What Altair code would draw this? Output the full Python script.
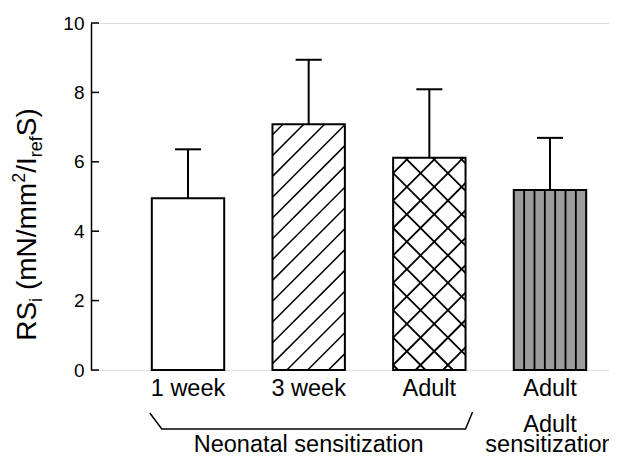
import altair as alt
import pandas as pd

# ---------------- data ----------------
categories = ["1 week", "3 week", "Adult", "Adult"]
groups = ["Neonatal sensitization", "Neonatal sensitization",
          "Neonatal sensitization", "Adult sensitization"]
means = [4.95, 7.08, 6.12, 5.19]
sems = [1.41, 1.86, 1.97, 1.50]
y_ticks = [0, 2, 4, 6, 8, 10]

# ---------------- style / layout ----------------
patterns = ["plain", "diagonal", "cross", "vertical"]
fills = ["#ffffff", "#ffffff", "#ffffff", "#9c9c9c"]
W, H = 518, 347
X_DOMAIN = [-0.804, 3.489]
Y_DOMAIN = [0, 10]
BAR_HALF = 0.3
CAP_HALF = 0.108
FONT = "Liberation Sans, Arial, Helvetica, sans-serif"
PX_X = W / (X_DOMAIN[1] - X_DOMAIN[0])
PX_Y = H / (Y_DOMAIN[1] - Y_DOMAIN[0])

positions = list(range(len(categories)))
df = pd.DataFrame({
    "pos": positions,
    "lo": [p - BAR_HALF for p in positions],
    "hi": [p + BAR_HALF for p in positions],
    "cap_lo": [p - CAP_HALF for p in positions],
    "cap_hi": [p + CAP_HALF for p in positions],
    "mean": means,
    "top": [m + s for m, s in zip(means, sems)],
    "zero": [0] * len(means),
    "label": categories,
    "fill": fills,
})

xs = alt.Scale(domain=X_DOMAIN, nice=False, zero=False)
ys = alt.Scale(domain=Y_DOMAIN, nice=False, zero=False)
yaxis = alt.Axis(values=y_ticks, ticks=False, tickSize=0, grid=False,
                 labelFontSize=19, labelFont=FONT, labelColor="black",
                 labelPadding=7, domainColor="black", domainWidth=1.5,
                 labelFlush=False, title=None)


def Y(field):
    return alt.Y(field, scale=ys, axis=yaxis, title=None)


def X(field):
    return alt.X(field, scale=xs, axis=None, title=None)


# ---------------- hatch decoration (clipped to each bar) ----------------
def hatch_segments():
    rows = []
    bw = 2 * BAR_HALF * PX_X
    for p, m, pat in zip(positions, means, patterns):
        h = m * PX_Y
        x0 = p - BAR_HALF

        def add(u1, v1, u2, v2, w):
            rows.append({"x": x0 + u1 / PX_X, "x2": x0 + u2 / PX_X,
                         "y": v1 / PX_Y, "y2": v2 / PX_Y, "w": w})

        if pat == "diagonal":
            spacing, phase = 20.8, -14.4
            k = -20
            while True:
                c = phase + spacing * k
                k += 1
                if c > h:
                    break
                ua, ub = max(0.0, -c), min(bw, h - c)
                if ub > ua:
                    add(ua, ua + c, ub, ub + c, 1.5)
        elif pat == "cross":
            spacing, phase = 27.4, 5.0
            k = -20
            while True:
                c = phase + spacing * k
                k += 1
                if c > h + bw + spacing:
                    break
                ua, ub = max(0.0, -c), min(bw, h - c)
                if ub > ua:
                    add(ua, ua + c, ub, ub + c, 1.8)
                ua, ub = max(0.0, c - h), min(bw, c)
                if ub > ua:
                    add(ua, c - ua, ub, c - ub, 1.8)
        elif pat == "vertical":
            for j in range(1, 7):
                u = bw * j / 7
                add(u, 0, u, h, 1.8)
    return pd.DataFrame(rows)


hatch_df = hatch_segments()

base = alt.Chart(df)

bars_fill = base.mark_rect(strokeWidth=0).encode(
    x=X("lo:Q"), x2="hi:Q",
    y=Y("mean:Q"), y2="zero:Q",
    color=alt.Color("fill:N", scale=None),
)

hatch = alt.Chart(hatch_df).mark_rule(color="black").encode(
    x=X("x:Q"), x2="x2:Q",
    y=Y("y:Q"), y2="y2:Q",
    strokeWidth=alt.StrokeWidth("w:Q", scale=None),
)

bars_outline = base.mark_rect(fillOpacity=0, stroke="black", strokeWidth=2).encode(
    x=X("lo:Q"), x2="hi:Q",
    y=Y("mean:Q"), y2="zero:Q",
)

err = base.mark_rule(color="black", strokeWidth=2).encode(
    x=X("pos:Q"),
    y=Y("mean:Q"), y2="top:Q",
)

caps = base.mark_rule(color="black", strokeWidth=2).encode(
    x=X("cap_lo:Q"), x2="cap_hi:Q",
    y=Y("top:Q"),
)

ticks = alt.Chart(pd.DataFrame({"t": y_ticks})).mark_rule(
    color="black", strokeWidth=1.5).encode(
    y=Y("t:Q"),
    x=alt.value(0),
    x2=alt.value(8),
)

LABEL_SIZE = 23.5
cat_labels = base.mark_text(fontSize=LABEL_SIZE, font=FONT, color="black",
                            align="center", baseline="alphabetic").encode(
    x=X("pos:Q"),
    y=alt.value(373),
    text="label:N",
)

# group labels, centred under their bars
group_names = []
for g in groups:
    if g not in group_names:
        group_names.append(g)
g_center = {g: sum(p for p, gg in zip(positions, groups) if gg == g) /
            sum(1 for gg in groups if gg == g) for g in group_names}

neo_df = pd.DataFrame({"x": [g_center[group_names[0]]], "t": [group_names[0]]})
adult_words = group_names[1].split(" ")
adult1_df = pd.DataFrame({"x": [g_center[group_names[1]]], "t": [adult_words[0]]})
adult2_df = pd.DataFrame({"x": [g_center[group_names[1]]], "t": [adult_words[1]]})


def glabel(d, ypx):
    return alt.Chart(d).mark_text(fontSize=LABEL_SIZE, font=FONT, color="black",
                                  align="center", baseline="alphabetic").encode(
        x=X("x:Q"), y=alt.value(ypx), text="t:N")


neo_text = glabel(neo_df, 429)
adult_text1 = glabel(adult1_df, 409)
adult_text2 = glabel(adult2_df, 429)

# bracket under the neonatal group (annotation)
neo_pos = [p for p, g in zip(positions, groups) if g == group_names[0]]
bl = min(neo_pos) - BAR_HALF
br = max(neo_pos) + BAR_HALF


def to_y(px):
    return (H - px) / PX_Y


bracket_df = pd.DataFrame({
    "x": [bl - 2 / PX_X, bl + 10 / PX_X, br, br + 7 / PX_X],
    "y": [to_y(390), to_y(406), to_y(406), to_y(389)],
    "o": [0, 1, 2, 3],
})
bracket = alt.Chart(bracket_df).mark_line(color="black", strokeWidth=1.5).encode(
    x=X("x:Q"),
    y=Y("y:Q"),
    order="o:Q",
)

# y-axis title with sub/superscripts, built from pieces
ADV = {"R": 722, "S": 667, "i": 222, " ": 278, "(": 333, "m": 833, "N": 722,
       "/": 278, "2": 556, "I": 278, "r": 333, "e": 556, "f": 278, ")": 333}
BIG, SMALL = 28, 18
# (text, size, baseline shift in units of BIG, extra advance before piece)
pieces = [("RS", BIG, 0, 0), ("i", SMALL, 0.22, 0), ("(mN/mm", BIG, 0, ADV[" "]),
          ("2", SMALL, -0.38, 0), ("/I", BIG, 0, 0), ("ref", SMALL, 0.22, 0),
          ("S)", BIG, 0, 0)]


def adv(t, s):
    return sum(ADV[c] for c in t) / 1000 * s


total = sum(adv(t, s) + pre / 1000 * BIG for t, s, _, pre in pieces)
title_center_y = 201.5
base_x = -55
cur = title_center_y + total / 2
title_layers = []
for t, s, shift, pre in pieces:
    cur -= pre / 1000 * BIG
    title_layers.append(
        alt.Chart(pd.DataFrame({"t": [t]})).mark_text(
            fontSize=s, font=FONT, color="black", angle=270,
            align="left", baseline="alphabetic").encode(
            x=alt.value(base_x + shift * BIG), y=alt.value(cur), text="t:N"))
    cur -= adv(t, s)

chart = alt.layer(
    bars_fill, hatch, bars_outline, err, caps, ticks, cat_labels,
    neo_text, adult_text1, adult_text2, bracket, *title_layers
).properties(
    width=W, height=H,
    autosize=alt.AutoSizeParams(type="none"),
    padding={"left": 83, "top": 15, "right": 0, "bottom": 88},
).configure_view(stroke=None).configure(background="white")

chart.save("out.html", embed_options={"renderer": "svg", "actions": False})
